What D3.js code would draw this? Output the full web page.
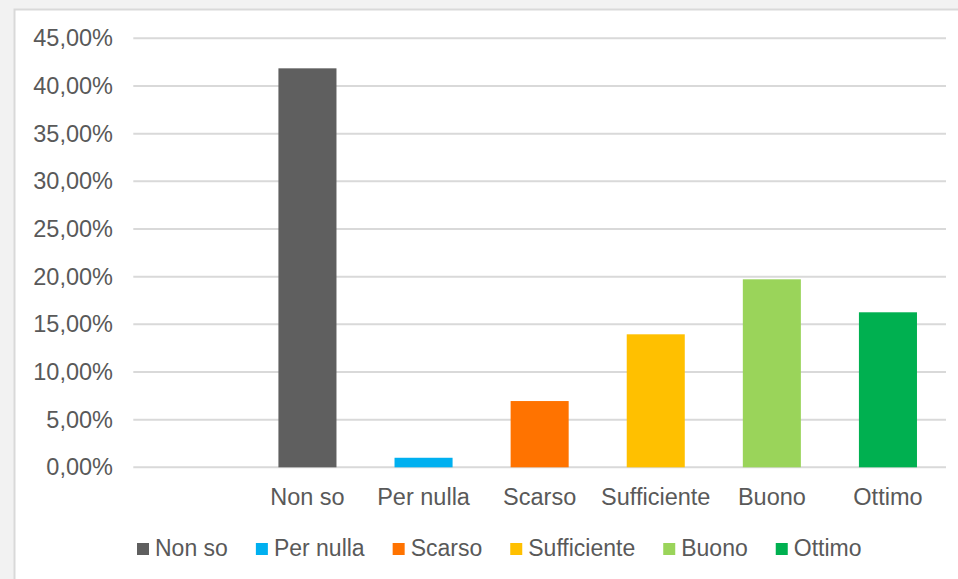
<!DOCTYPE html>
<html>
<head>
<meta charset="utf-8">
<script src="https://cdn.jsdelivr.net/npm/d3@7"></script>
<style>
  html, body { margin: 0; padding: 0; background: #f2f2f2; }
  svg { display: block; }
  text { font-family: "Liberation Sans", Arial, sans-serif; fill: #595959; }
</style>
</head>
<body>
<svg id="chart" width="958" height="579"></svg>
<script>
// ---- data ----
const categories = ["Non so", "Per nulla", "Scarso", "Sufficiente", "Buono", "Ottimo"];
const values = [41.85, 1.0, 6.95, 13.95, 19.72, 16.26];
const colors = ["#5f5f5f", "#00b0f0", "#ff7300", "#ffc000", "#9ad45a", "#00b050"];
const yTicks = [0, 5, 10, 15, 20, 25, 30, 35, 40, 45];
const xSlots = [""].concat(categories); // first slot is empty in the original chart

// ---- layout ----
const svg = d3.select("#chart");
const W = 958, H = 579;
const plot = { left: 133.3, right: 946, top: 38.3, bottom: 467.3 };

svg.append("rect").attr("x", 0).attr("y", 0).attr("width", W).attr("height", H).attr("fill", "#f2f2f2");
svg.append("rect").attr("x", 14.5).attr("y", 9.5).attr("width", W).attr("height", H)
  .attr("fill", "#ffffff").attr("stroke", "#d9d9d9").attr("stroke-width", 2);

const x = d3.scaleBand().domain(xSlots).range([plot.left, plot.right])
  .paddingInner(0.5).paddingOuter(0.25);
const y = d3.scaleLinear().domain([0, 45]).range([plot.bottom, plot.top]);

const locale = d3.formatLocale({ decimal: ",", thousands: ".", grouping: [3], currency: ["", "€"] });
const fmt = v => locale.format(".2f")(v) + "%";

// gridlines
svg.append("g").selectAll("line").data(yTicks).join("line")
  .attr("x1", plot.left).attr("x2", plot.right)
  .attr("y1", d => y(d)).attr("y2", d => y(d))
  .attr("stroke", "#d9d9d9").attr("stroke-width", 2);

// y axis labels
const yAxis = d3.axisLeft(y).tickValues(yTicks).tickFormat(fmt).tickSize(0).tickPadding(0);
const gy = svg.append("g").attr("transform", `translate(113,0)`).call(yAxis);
gy.select(".domain").remove();
gy.selectAll("text").style("font-size", "23.5px").attr("fill", "#595959")
  .style("font-family", '"Liberation Sans", Arial, sans-serif');

// bars
svg.append("g").selectAll("rect").data(categories).join("rect")
  .attr("x", d => x(d))
  .attr("width", x.bandwidth())
  .attr("y", (d, i) => y(values[i]))
  .attr("height", (d, i) => y(0) - y(values[i]))
  .attr("fill", (d, i) => colors[i]);

// x axis labels
const xAxis = d3.axisBottom(x).tickValues(categories).tickSize(0).tickPadding(0);
const gx = svg.append("g").attr("transform", `translate(0,${plot.bottom})`).call(xAxis);
gx.select(".domain").remove();
gx.selectAll("text").style("font-size", "23.5px").attr("fill", "#595959")
  .style("font-family", '"Liberation Sans", Arial, sans-serif')
  .attr("y", 38).attr("dy", "0");

// legend
const legend = svg.append("g");
let lx = 137;
categories.forEach((c, i) => {
  const g = legend.append("g").attr("transform", `translate(${lx},0)`);
  g.append("rect").attr("x", 0).attr("y", 543).attr("width", 12).attr("height", 12).attr("fill", colors[i]);
  const t = g.append("text").attr("x", 18).attr("y", 555.5).style("font-size", "23px").text(c);
  lx += 18 + t.node().getComputedTextLength() + 28;
});
</script>
</body>
</html>
